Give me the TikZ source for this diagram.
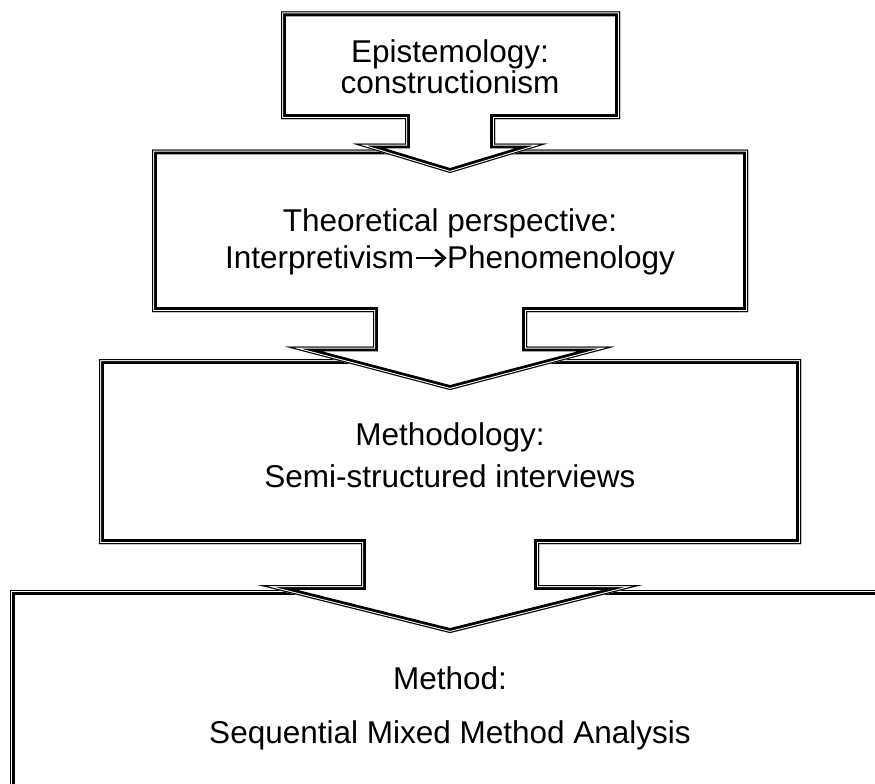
\documentclass[tikz,border=0pt]{standalone}
\usepackage{fontspec}
\setmainfont{Liberation Sans}
\newcommand\dblshape[1]{%
  \fill[white] #1;
  \begin{scope}
    \clip #1;
    \draw[line width=9.6pt, line join=miter, miter limit=20] #1;
    \draw[white, line width=4pt, line join=miter, miter limit=20] #1;
    \draw[line width=2pt, line join=miter, miter limit=20] #1;
  \end{scope}}
\newcommand\chevarrow{\tikz[baseline=0pt,x=1pt,y=1pt]{%
  \path (0,0) rectangle (33,20);
  \draw[line width=2.6pt] (2,10) -- (30,10);
  \draw[line width=2.6pt, line join=miter] (21,1.5) -- (30.5,10) -- (21,18.5);}}
\begin{document}
\begin{tikzpicture}[x=1pt,y=-1pt,
  lbl/.style={anchor=base, inner sep=0pt, font=\fontsize{31.5}{36}\selectfont}]
\useasboundingbox (0,0) rectangle (875,784);
\clip (0,0) rectangle (875,784);
% box 4 (method)
\dblshape{(10,590) -- (900,590) -- (900,800) -- (10,800) -- cycle}
% box 3 (methodology)
\dblshape{(99,359) -- (801,359) -- (801,544) -- (539,544) -- (539,585) -- (642,585) -- (450,633) -- (258,585) -- (361,585) -- (361,544) -- (99,544) -- cycle}
% box 2 (theoretical perspective)
\dblshape{(152,149.5) -- (748,149.5) -- (748,312) -- (527,312) -- (527,346.5) -- (615,346.5) -- (450,390) -- (285,346.5) -- (373,346.5) -- (373,312) -- (152,312) -- cycle}
% box 1 (epistemology)
\dblshape{(281,11.5) -- (620,11.5) -- (620,119) -- (495,119) -- (495,143.5) -- (547.5,143.5) -- (450,173) -- (352.5,143.5) -- (405,143.5) -- (405,119) -- (281,119) -- cycle}
% texts
\node[lbl] (e1) at (450,63) {Epistemology:};
\node[lbl] (e2) at (450,93) {constructionism};
\node[lbl] (t1) at (450,231) {Theoretical perspective:};
\node[lbl] (t2) at (450,268) {Interpretivism\chevarrow Phenomenology};
\node[lbl] (m1) at (450,445) {Methodology:};
\node[lbl] (m2) at (450,487) {Semi-structured interviews};
\node[lbl] (d1) at (450,689) {Method:};
\node[lbl] (d2) at (450,743) {Sequential Mixed Method Analysis};
\end{tikzpicture}
\end{document}
